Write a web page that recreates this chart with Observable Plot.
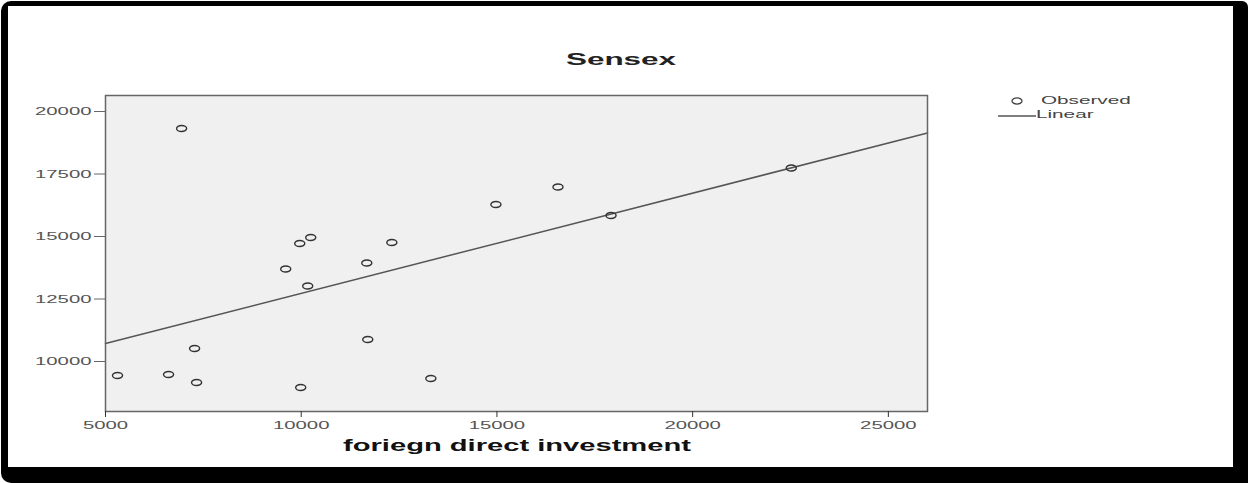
<!DOCTYPE html>
<html><head><meta charset="utf-8">
<script src="https://cdn.jsdelivr.net/npm/d3@7"></script>
<script src="https://cdn.jsdelivr.net/npm/@observablehq/plot@0.6"></script>
<style>
html,body{margin:0;padding:0;background:#fff;}
#wrap{position:relative;width:1248px;height:483px;overflow:hidden;font-family:"Liberation Sans",Arial,sans-serif;}
#frame{position:absolute;left:1px;top:1px;width:1247px;height:482px;background:#000;border-radius:10px 6px 0 10px;}
#inner{position:absolute;left:8px;top:6px;width:1225px;height:461px;background:#fff;}
#chart{position:absolute;left:0;top:0;}
.t{position:absolute;white-space:nowrap;line-height:1;}
#title{left:621px;top:51px;font-size:17px;font-weight:bold;color:#222;transform:translateX(-50%) scaleX(1.85);}
#xlab{left:517px;top:438px;font-size:16px;font-weight:bold;color:#111;transform:translateX(-50%) scaleX(1.82);}
.leg{font-size:11.5px;color:#444;transform-origin:left center;transform:scaleX(1.8);}
#legsvg{position:absolute;left:0;top:0;}
</style></head><body>
<div id="wrap"><div id="frame"></div><div id="inner"></div><div id="chart"></div>
<div id="title" class="t"></div><div id="xlab" class="t"></div>
<div id="leg0" class="t leg" style="left:1041px;top:95px;"></div>
<div id="leg1" class="t leg" style="left:1036px;top:109px;"></div>
<svg id="legsvg" width="1248" height="483"></svg>
</div>
<script>
// Data
const fdi    = [6944, 5307, 6611, 7276, 7327, 9604, 9962, 10243, 10166, 9987, 11675, 11700, 12315, 13312, 14974, 16560, 17915, 22520];
const sensex = [19320, 9440, 9480, 10520, 9160, 13700, 14720, 14960, 13020, 8960, 13940, 10880, 14760, 9320, 16280, 16980, 15840, 17740];
const fitX = [5000, 26000];
const fitY = [10720, 19140];
const xTicks = [5000, 10000, 15000, 20000, 25000];
const yTicks = [10000, 12500, 15000, 17500, 20000];
const titleText = "Sensex";
const xLabelText = "foriegn direct investment";
const legendLabels = ["Observed", "Linear"];

const data = fdi.map((x, i) => ({x, y: sensex[i]}));
const fit = fitX.map((x, i) => ({x, y: fitY[i]}));

const ellipse = {draw(ctx, size) {
  const r = Math.sqrt(size / Math.PI), rx = r * 1.4, ry = r * 0.85, k = 0.5523;
  ctx.moveTo(rx, 0);
  ctx.bezierCurveTo(rx, ry * k, rx * k, ry, 0, ry);
  ctx.bezierCurveTo(-rx * k, ry, -rx, ry * k, -rx, 0);
  ctx.bezierCurveTo(-rx, -ry * k, -rx * k, -ry, 0, -ry);
  ctx.bezierCurveTo(rx * k, -ry, rx, -ry * k, rx, 0);
  ctx.closePath();
}};

const chart = Plot.plot({
  width: 1248, height: 483,
  marginLeft: 105, marginRight: 321, marginTop: 95, marginBottom: 72,
  style: {background: "transparent", fontFamily: "Liberation Sans, Arial, sans-serif", fontSize: "11px", overflow: "visible"},
  x: {domain: [5000, 26000]},
  y: {domain: [8000, 20640]},
  marks: [
    Plot.frame({fill: "#f0f0f0", stroke: "none"}),
    Plot.line(fit, {x: "x", y: "y", stroke: "#555", strokeWidth: 1.5}),
    Plot.dot(data, {x: "x", y: "y", symbol: ellipse, r: 3.6, stroke: "#333", strokeWidth: 1.4, fill: "none"}),
    Plot.frame({stroke: "#666", strokeWidth: 1.5}),
    Plot.axisX({ticks: xTicks, tickSize: 6, tickPadding: 4, tickFormat: d => String(d), label: null, stroke: "#333", fill: "#555"}),
    Plot.axisY({ticks: yTicks, tickSize: 11, tickPadding: 3, tickFormat: d => String(d), label: null, stroke: "#666", fill: "#555"})
  ]
});
chart.querySelectorAll("text").forEach(t => {
  const n = t.textContent.length;
  t.setAttribute("textLength", n * 11.3);
  t.setAttribute("lengthAdjust", "spacingAndGlyphs");
});
document.getElementById("chart").appendChild(chart);
document.getElementById("title").textContent = titleText;
document.getElementById("xlab").textContent = xLabelText;
document.getElementById("leg0").textContent = legendLabels[0];
document.getElementById("leg1").textContent = legendLabels[1];

// legend symbols
const lg = d3.select("#legsvg");
lg.append("path").attr("d", (() => { const p = d3.path(); ellipse.draw(p, 3.6 * 3.6 * Math.PI); return p.toString(); })())
  .attr("transform", "translate(1017,101)").attr("fill", "none").attr("stroke", "#444").attr("stroke-width", 1.3);
lg.append("line").attr("x1", 998).attr("x2", 1036).attr("y1", 116).attr("y2", 116).attr("stroke", "#555").attr("stroke-width", 1.3);
</script>
</body></html>
